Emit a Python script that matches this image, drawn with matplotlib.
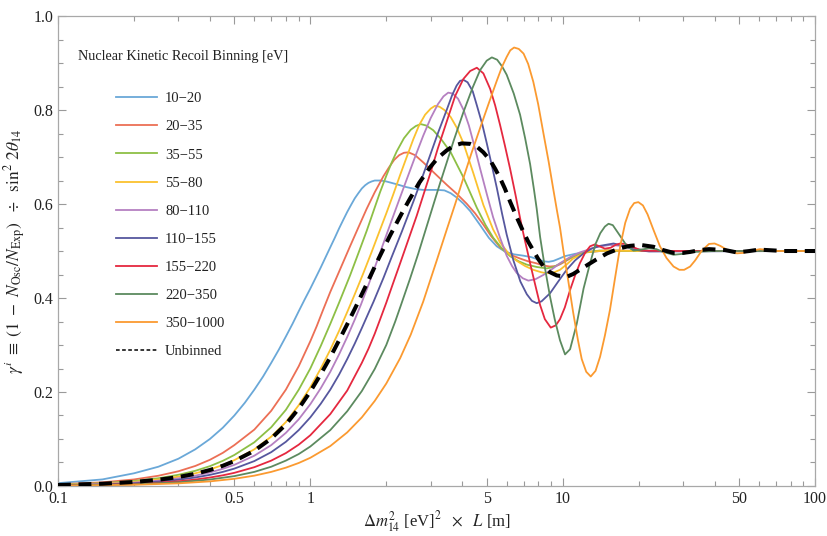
import matplotlib
matplotlib.use("Agg")
import matplotlib.pyplot as plt
from matplotlib.lines import Line2D
from matplotlib.ticker import FixedLocator, FixedFormatter, NullFormatter

plt.rcParams["font.family"] = ["Liberation Serif", "DejaVu Serif"]
plt.rcParams["mathtext.fontset"] = "stix"

# --- curves (x = dm^2 L, y = gamma) ---
x_10_20 = [0.1, 0.15, 0.2, 0.25, 0.3, 0.35, 0.4, 0.45, 0.5, 0.55, 0.6, 0.65, 0.7, 0.75, 0.8, 0.85, 0.9, 0.95, 1.0,
           1.05, 1.1, 1.15, 1.2, 1.25, 1.3, 1.35, 1.4, 1.45, 1.5, 1.55, 1.6, 1.65, 1.7, 1.75, 1.8, 1.9, 2.0, 2.2, 2.4,
           2.6, 2.8, 3.0, 3.2, 3.4, 3.6, 3.8, 4.04, 4.3, 4.71, 5.1, 5.48, 5.9, 6.4, 7.0, 7.5, 8.0, 8.4, 8.8, 9.2, 9.7,
           10.2, 11.2, 12.5, 15, 20, 100]
y_10_20 = [0.006, 0.014, 0.027, 0.041, 0.058, 0.078, 0.10, 0.124, 0.15, 0.177, 0.205, 0.233, 0.262, 0.29, 0.318,
           0.345, 0.372, 0.397, 0.42, 0.443, 0.465, 0.487, 0.508, 0.528, 0.548, 0.566, 0.583, 0.598, 0.612, 0.623,
           0.633, 0.640, 0.645, 0.648, 0.650, 0.650, 0.648, 0.642, 0.636, 0.632, 0.630, 0.630, 0.630, 0.629, 0.623,
           0.614, 0.601, 0.585, 0.555, 0.528, 0.510, 0.499, 0.493, 0.490, 0.487, 0.482, 0.478, 0.477, 0.479, 0.484,
           0.489, 0.494, 0.498, 0.501, 0.500, 0.500]

x_20_35 = [0.1, 0.15, 0.2, 0.25, 0.3, 0.35, 0.4, 0.45, 0.5, 0.6, 0.7, 0.8, 0.9, 1.0, 1.06, 1.126, 1.2, 1.3, 1.437,
           1.55, 1.673, 1.8, 1.948, 2.05, 2.15, 2.25, 2.35, 2.45, 2.6, 2.81, 3.1, 3.47, 3.8, 4.16, 4.5, 4.85, 5.2,
           5.65, 6.2, 6.78, 7.3, 7.85, 8.4, 8.9, 9.4, 9.8, 10.7, 11.5, 12.5, 15, 25, 100]
y_20_35 = [0.0035, 0.0078, 0.0139, 0.0218, 0.0313, 0.0426, 0.0557, 0.0705, 0.087, 0.12, 0.16, 0.205, 0.255, 0.308,
           0.34, 0.376, 0.413, 0.456, 0.51, 0.55, 0.59, 0.625, 0.659, 0.678, 0.694, 0.704, 0.709, 0.710, 0.704,
           0.688, 0.666, 0.641, 0.622, 0.601, 0.580, 0.556, 0.532, 0.508, 0.492, 0.484, 0.478, 0.474, 0.469, 0.467,
           0.468, 0.472, 0.484, 0.492, 0.498, 0.501, 0.500, 0.500]

x_35_55 = [0.1, 0.15, 0.2, 0.25, 0.3, 0.35, 0.4, 0.45, 0.5, 0.6, 0.7, 0.8, 0.9, 1.0, 1.1, 1.2, 1.3, 1.437, 1.55,
           1.673, 1.78, 1.889, 2.0, 2.1, 2.2, 2.35, 2.5, 2.62, 2.74, 2.88, 3.07, 3.3, 3.6, 4.04, 4.57, 4.95, 5.31,
           5.75, 6.19, 6.7, 7.21, 7.9, 8.65, 9.2, 9.76, 10.7, 11.7, 14, 20, 100]
y_35_55 = [0.0026, 0.0059, 0.0106, 0.0165, 0.0238, 0.0323, 0.0422, 0.0535, 0.066, 0.093, 0.125, 0.162, 0.205, 0.25,
           0.298, 0.345, 0.39, 0.448, 0.495, 0.543, 0.585, 0.625, 0.66, 0.688, 0.712, 0.74, 0.758, 0.766, 0.770,
           0.767, 0.757, 0.738, 0.71, 0.657, 0.592, 0.555, 0.528, 0.505, 0.489, 0.478, 0.471, 0.466, 0.463, 0.466,
           0.473, 0.485, 0.495, 0.501, 0.500, 0.500]

x_55_80 = [0.1, 0.15, 0.2, 0.25, 0.3, 0.35, 0.4, 0.45, 0.5, 0.6, 0.7, 0.8, 0.9, 1.0, 1.1, 1.2, 1.3, 1.4, 1.5, 1.62,
           1.75, 1.889, 2.0, 2.13, 2.27, 2.41, 2.56, 2.7, 2.85, 3.0, 3.12, 3.25, 3.4, 3.6, 3.8, 4.04, 4.43, 4.85, 5.3,
           5.65, 6.1, 6.58, 7.1, 7.65, 8.2, 8.65, 9.2, 9.76, 10.4, 11.0, 12.5, 15, 20, 100]
y_55_80 = [0.0022, 0.005, 0.0088, 0.0138, 0.0198, 0.027, 0.0352, 0.0446, 0.055, 0.078, 0.105, 0.136, 0.172, 0.21,
           0.25, 0.29, 0.33, 0.37, 0.408, 0.452, 0.498, 0.545, 0.58, 0.62, 0.662, 0.70, 0.738, 0.768, 0.79, 0.803,
           0.809, 0.807, 0.80, 0.785, 0.763, 0.73, 0.665, 0.598, 0.546, 0.518, 0.495, 0.479, 0.468, 0.460, 0.455,
           0.4525, 0.454, 0.46, 0.472, 0.484, 0.498, 0.501, 0.500, 0.500]

x_80_110 = [0.1, 0.15, 0.2, 0.25, 0.3, 0.35, 0.4, 0.45, 0.5, 0.6, 0.7, 0.8, 0.9, 1.0, 1.1, 1.2, 1.3, 1.4, 1.5, 1.587,
            1.7, 1.82, 1.95, 2.1, 2.25, 2.42, 2.6, 2.8, 3.0, 3.2, 3.37, 3.52, 3.67, 3.85, 4.05, 4.25, 4.45, 4.71, 5.0,
            5.3, 5.65, 6.0, 6.3, 6.58, 6.95, 7.31, 7.8, 8.38, 9.0, 9.76, 10.7, 11.7, 13.5, 15.4, 17, 19, 22, 100]
y_80_110 = [0.0018, 0.004, 0.0072, 0.0113, 0.0162, 0.022, 0.0288, 0.0365, 0.045, 0.0645, 0.087, 0.113, 0.142, 0.174,
            0.208, 0.243, 0.28, 0.317, 0.354, 0.386, 0.428, 0.472, 0.517, 0.565, 0.609, 0.655, 0.70, 0.745, 0.783,
            0.812, 0.829, 0.837, 0.835, 0.824, 0.80, 0.767, 0.727, 0.675, 0.622, 0.572, 0.528, 0.49, 0.468, 0.453,
            0.442, 0.437, 0.44, 0.449, 0.46, 0.474, 0.487, 0.497, 0.508, 0.513, 0.511, 0.506, 0.500, 0.500]

x_110_155 = [0.1, 0.15, 0.2, 0.25, 0.3, 0.35, 0.4, 0.45, 0.5, 0.6, 0.7, 0.8, 0.9, 1.0, 1.1, 1.2, 1.3, 1.4, 1.5, 1.6,
             1.7, 1.78, 1.95, 2.1, 2.3, 2.56, 2.77, 2.98, 3.2, 3.47, 3.65, 3.8, 3.92, 4.05, 4.2, 4.4, 4.57, 4.8, 5.0,
             5.25, 5.48, 5.75, 6.0, 6.38, 6.8, 7.21, 7.55, 7.89, 8.25, 8.91, 9.6, 10.37, 11.2, 12.1, 13, 14.07, 15.9,
             17.5, 19.1, 22, 100]
y_110_155 = [0.0015, 0.0033, 0.0059, 0.0093, 0.0133, 0.0181, 0.0237, 0.030, 0.037, 0.053, 0.072, 0.094, 0.119, 0.146,
             0.175, 0.205, 0.237, 0.27, 0.303, 0.336, 0.368, 0.392, 0.443, 0.487, 0.54, 0.605, 0.655, 0.703, 0.75,
             0.80, 0.832, 0.852, 0.862, 0.864, 0.859, 0.84, 0.81, 0.77, 0.73, 0.68, 0.635, 0.58, 0.535, 0.48, 0.435,
             0.408, 0.394, 0.389, 0.393, 0.41, 0.435, 0.46, 0.48, 0.495, 0.505, 0.511, 0.516, 0.511, 0.503, 0.499,
             0.500]

x_155_220 = [0.1, 0.15, 0.2, 0.25, 0.3, 0.35, 0.4, 0.45, 0.5, 0.6, 0.7, 0.8, 0.9, 1.0, 1.2, 1.4, 1.6, 1.7, 1.8,
             1.889, 2.0, 2.13, 2.27, 2.45, 2.64, 2.82, 3.0, 3.2, 3.47, 3.75, 4.04, 4.3, 4.57, 4.85, 5.16, 5.4, 5.65,
             5.9, 6.19, 6.5, 6.78, 7.0, 7.21, 7.43, 7.65, 8.14, 8.5, 8.97, 9.4, 9.76, 10.2, 10.7, 11.2, 11.7, 12.3,
             12.84, 13.4, 14.0, 14.7, 15.5, 16.2, 16.9, 17.7, 18.5, 20.5, 25, 100]
y_155_220 = [0.0011, 0.0025, 0.0045, 0.007, 0.010, 0.0137, 0.018, 0.0227, 0.028, 0.040, 0.054, 0.070, 0.088, 0.108,
             0.153, 0.203, 0.262, 0.292, 0.324, 0.354, 0.39, 0.432, 0.474, 0.525, 0.575, 0.623, 0.668, 0.718, 0.775,
             0.83, 0.866, 0.883, 0.890, 0.878, 0.845, 0.81, 0.768, 0.725, 0.675, 0.62, 0.57, 0.535, 0.505, 0.474,
             0.445, 0.385, 0.355, 0.337, 0.342, 0.355, 0.38, 0.417, 0.448, 0.474, 0.497, 0.51, 0.514, 0.51, 0.505,
             0.507, 0.513, 0.516, 0.515, 0.511, 0.501, 0.500, 0.500]

x_220_350 = [0.1, 0.2, 0.3, 0.4, 0.5, 0.6, 0.7, 0.8, 0.9, 1.0, 1.2, 1.4, 1.6, 1.8, 2.0, 2.17, 2.28, 2.48, 2.68, 2.89,
             3.08, 3.27, 3.47, 3.7, 4.04, 4.4, 4.71, 5.0, 5.24, 5.5, 5.75, 6.0, 6.4, 6.78, 7.1, 7.43, 7.7, 7.89, 8.14,
             8.5, 8.91, 9.3, 9.76, 10.22, 10.7, 11.37, 12.1, 12.84, 13.5, 14.1, 14.7, 15.2, 15.8, 16.9, 18, 19.1, 20.5,
             22, 23.5, 25, 27.5, 30, 32, 40, 100]
y_220_350 = [0.0009, 0.0035, 0.0078, 0.0138, 0.021, 0.030, 0.041, 0.054, 0.068, 0.084, 0.119, 0.159, 0.202, 0.249,
             0.30, 0.35, 0.383, 0.44, 0.495, 0.552, 0.60, 0.645, 0.688, 0.735, 0.795, 0.848, 0.885, 0.905, 0.912,
             0.907, 0.893, 0.875, 0.835, 0.79, 0.74, 0.685, 0.63, 0.59, 0.53, 0.465, 0.403, 0.355, 0.31, 0.28, 0.291,
             0.345, 0.42, 0.474, 0.515, 0.538, 0.552, 0.558, 0.555, 0.532, 0.51, 0.501, 0.503, 0.506, 0.504, 0.498,
             0.492, 0.494, 0.498, 0.500, 0.500]

x_350_1000 = [0.1, 0.2, 0.3, 0.4, 0.5, 0.6, 0.7, 0.8, 0.9, 1.0, 1.2, 1.4, 1.6, 1.8, 2.0, 2.27, 2.5, 2.8, 3.17, 3.47,
              3.75, 4.04, 4.35, 4.71, 5.1, 5.48, 5.75, 6.0, 6.2, 6.42, 6.7, 7.0, 7.3, 7.65, 8.0, 8.38, 8.8, 9.19, 9.5,
              9.76, 10.07, 10.5, 11.0, 11.5, 11.9, 12.4, 12.92, 13.5, 14.07, 14.7, 15.4, 16.1, 16.9, 17.7, 18.5, 19.2,
              19.95, 20.8, 21.7, 22.9, 24.3, 25.8, 27.5, 29, 30.3, 32, 33.5, 35.5, 38, 40, 42.1, 45, 49, 52, 55.5,
              60.6, 65, 70.5, 100]
y_350_1000 = [0.0007, 0.0025, 0.0056, 0.0098, 0.0153, 0.022, 0.030, 0.039, 0.049, 0.060, 0.085, 0.114, 0.146, 0.181,
              0.218, 0.272, 0.322, 0.392, 0.48, 0.545, 0.60, 0.655, 0.708, 0.762, 0.815, 0.862, 0.892, 0.913, 0.927,
              0.933, 0.93, 0.92, 0.898, 0.86, 0.812, 0.752, 0.69, 0.63, 0.585, 0.55, 0.50, 0.44, 0.37, 0.31, 0.27,
              0.243, 0.233, 0.245, 0.275, 0.32, 0.375, 0.44, 0.51, 0.56, 0.59, 0.602, 0.604, 0.597, 0.578, 0.545,
              0.51, 0.485, 0.467, 0.46, 0.46, 0.467, 0.48, 0.50, 0.515, 0.516, 0.511, 0.502, 0.495, 0.496, 0.50,
              0.504, 0.502, 0.500, 0.500]

x_unbinned = [0.1, 0.15, 0.2, 0.25, 0.3, 0.35, 0.4, 0.45, 0.5, 0.6, 0.7, 0.8, 0.9, 1.0, 1.1, 1.2, 1.3, 1.4, 1.52,
              1.65, 1.724, 1.85, 1.95, 2.07, 2.2, 2.34, 2.48, 2.7, 2.98, 3.2, 3.47, 3.7, 3.98, 4.3, 4.57, 4.85, 5.16,
              5.4, 5.65, 5.9, 6.19, 6.6, 7.0, 7.3, 7.65, 8.0, 8.38, 8.9, 9.47, 10.37, 11.0, 11.7, 12.6, 13.6, 15,
              16.9, 18.5, 20.3, 22.9, 25, 27.5, 30, 32, 35, 38, 44, 49, 55, 60, 75, 100]
y_unbinned = [0.0021, 0.0048, 0.0085, 0.0133, 0.019, 0.026, 0.034, 0.043, 0.053, 0.075, 0.101, 0.131, 0.165, 0.201,
              0.238, 0.274, 0.31, 0.344, 0.383, 0.423, 0.445, 0.48, 0.505, 0.533, 0.56, 0.587, 0.611, 0.645, 0.678,
              0.698, 0.714, 0.724, 0.729, 0.728, 0.722, 0.71, 0.693, 0.675, 0.655, 0.633, 0.605, 0.57, 0.54, 0.52,
              0.501, 0.483, 0.468, 0.455, 0.448, 0.445, 0.451, 0.46, 0.471, 0.482, 0.495, 0.506, 0.511, 0.513, 0.509,
              0.502, 0.496, 0.496, 0.498, 0.502, 0.504, 0.502, 0.497, 0.500, 0.503, 0.500, 0.500]

bin_labels = ["10\u221220", "20\u221235", "35\u221255", "55\u221280", "80\u2212110", "110\u2212155",
              "155\u2212220", "220\u2212350", "350\u22121000"]
bin_colors = ["#6aa8d8", "#ec6f55", "#8dbf45", "#fbc12e", "#b580c1", "#56579e", "#e5283f", "#5c8a5f", "#fb9a30"]

curves = [(x_10_20, y_10_20), (x_20_35, y_20_35), (x_35_55, y_35_55), (x_55_80, y_55_80),
          (x_80_110, y_80_110), (x_110_155, y_110_155), (x_155_220, y_155_220),
          (x_220_350, y_220_350), (x_350_1000, y_350_1000)]

xticks = [0.1, 0.5, 1, 5, 10, 50, 100]
xtick_labels = ["0.1", "0.5", "1", "5", "10", "50", "100"]

fig = plt.figure(figsize=(8.27, 5.36), dpi=100)
ax = fig.add_axes([0.0701, 0.0933, 0.9154, 0.8768])

handles = []
for (xs, ys), lab, col in zip(curves, bin_labels, bin_colors):
    line, = ax.plot(xs, ys, color=col, lw=1.3, label=lab)
    handles.append(line)
ax.plot(x_unbinned, y_unbinned, color="black", lw=2.9, ls=(0, (3.2, 1.9)), zorder=5)
handles.append(Line2D([], [], color="black", lw=1.1, ls=(0, (2.4, 1.6)), label="Unbinned"))

ax.set_xscale("log")
ax.set_xlim(0.1, 100)
ax.set_ylim(0, 1.0)

ax.xaxis.set_major_locator(FixedLocator(xticks))
ax.xaxis.set_major_formatter(FixedFormatter(xtick_labels))
minor_x = [m * 10.0 ** e for e in (-1, 0, 1) for m in (2, 3, 4, 6, 7, 8, 9)]
ax.xaxis.set_minor_locator(FixedLocator(minor_x))
ax.xaxis.set_minor_formatter(NullFormatter())
ax.set_yticks([0.0, 0.2, 0.4, 0.6, 0.8, 1.0])
ax.set_yticklabels(["0.0", "0.2", "0.4", "0.6", "0.8", "1.0"])
ax.set_yticks([i * 0.05 for i in range(21)], minor=True)

ax.tick_params(which="both", direction="in", top=True, right=True, color="#9a9a9a", width=0.8,
               labelsize=11.5, labelcolor="#222222")
ax.tick_params(which="major", length=6)
ax.tick_params(which="minor", length=3.5)
for s in ax.spines.values():
    s.set_color("#a8a8a8")
    s.set_linewidth(0.9)

ax.set_xlabel(r"$\Delta m_{14}^{2}$ [eV]$^{2}$ $\ \times\ $ $L$ [m]", fontsize=12, color="#222222", labelpad=2)
ax.set_ylabel(r"$\gamma^{i}\ \equiv\ (1\ -\ N_{\rm Osc}/N_{\rm Exp})\ \ \div\ \ \sin^{2}\,2\theta_{14}$",
              fontsize=12.5, color="#222222", labelpad=4)

ax.text(0.0264, 0.913, "Nuclear Kinetic Recoil Binning [eV]", transform=ax.transAxes, fontsize=10.3,
        color="#222222", va="center", ha="left")
leg = ax.legend(handles=handles, loc="upper left", bbox_to_anchor=(0.076, 0.838), frameon=False, fontsize=10.5,
                handlelength=2.85, handletextpad=0.55, labelspacing=1.02, borderpad=0, borderaxespad=0)
for t in leg.get_texts():
    t.set_color("#222222")

fig.savefig("out.png", dpi=100)
